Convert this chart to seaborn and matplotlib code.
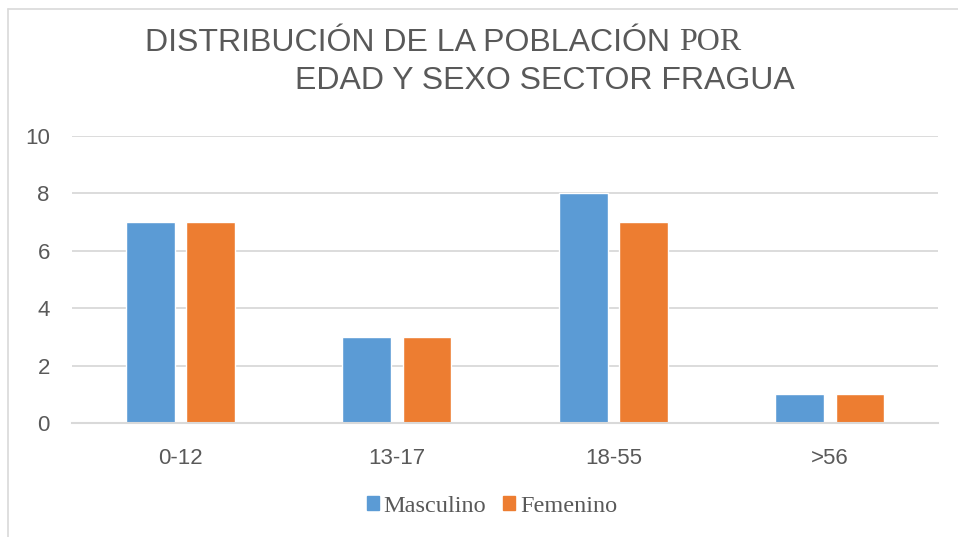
import pandas as pd
import matplotlib
matplotlib.use('Agg')
import matplotlib.pyplot as plt
from matplotlib.lines import Line2D
import seaborn as sns

grupos = ['0-12', '13-17', '18-55', '>56']
masculino = [7, 3, 8, 1]
femenino = [7, 3, 7, 1]
series = ['Masculino', 'Femenino']
colores = ['#5B9BD5', '#ED7D31']

df = pd.DataFrame({
    'edad': grupos * 2,
    'valor': masculino + femenino,
    'sexo': [series[0]] * len(grupos) + [series[1]] * len(grupos),
})

sns.set_theme(style='white')
plt.rcParams['font.family'] = ['Liberation Sans', 'DejaVu Sans']
gris = '#595959'

fig = plt.figure(figsize=(9.58, 5.37), dpi=100)
ax = fig.add_axes([0.0752, 0.2123, 0.9040, 0.5344])

sns.barplot(data=df, x='edad', y='valor', hue='sexo', palette=colores,
            width=0.557, gap=0.19, saturation=1, ax=ax, legend=False)

ax.set_xlim(-0.5, 3.5)
ax.set_ylim(0, 10)
ax.set_yticks([0, 2, 4, 6, 8, 10])
ax.yaxis.grid(True, color='#D9D9D9', linewidth=1.3)
ax.set_axisbelow(True)
for s in ['top', 'right', 'left']:
    ax.spines[s].set_visible(False)
ax.spines['bottom'].set_color('#D9D9D9')
ax.spines['bottom'].set_linewidth(1.5)
ax.set_xlabel('')
ax.set_ylabel('')
ax.tick_params(axis='both', length=0, labelsize=16, labelcolor=gris)
ax.tick_params(axis='y', pad=16)
ax.tick_params(axis='x', pad=18)

# titulo en dos lineas, "POR" en serif como en el original
t1 = fig.text(145 / 958, 1 - 43 / 537, 'DISTRIBUCIÓN DE LA POBLACIÓN ', fontsize=23,
              color=gris, ha='left', va='center')
fig.canvas.draw()
bb = t1.get_window_extent()
fig.text(bb.x1 / 958, 1 - 43 / 537, 'POR', fontsize=23, color=gris,
         family='Liberation Serif', ha='left', va='center')
fig.text(295 / 958, 1 - 81 / 537, 'EDAD Y SEXO SECTOR FRAGUA', fontsize=23,
         color=gris, ha='left', va='center')

handles = [plt.Rectangle((0, 0), 1, 1, color=c) for c in colores]
leg = fig.legend(handles, series, loc='center', bbox_to_anchor=(492 / 958, 1 - 506 / 537),
                 ncol=2, frameon=False, handlelength=0.5, handleheight=0.5,
                 handletextpad=0.2, columnspacing=0.7,
                 prop={'family': 'Liberation Serif', 'size': 17.5})
for t in leg.get_texts():
    t.set_color(gris)

# borde del grafico
fig.add_artist(Line2D([8 / 958, 8 / 958], [0, 1 - 9 / 537], color='#D9D9D9', linewidth=1.2))
fig.add_artist(Line2D([8 / 958, 1], [1 - 9 / 537, 1 - 9 / 537], color='#D9D9D9', linewidth=1.2))

fig.savefig('out.png', dpi=100)
